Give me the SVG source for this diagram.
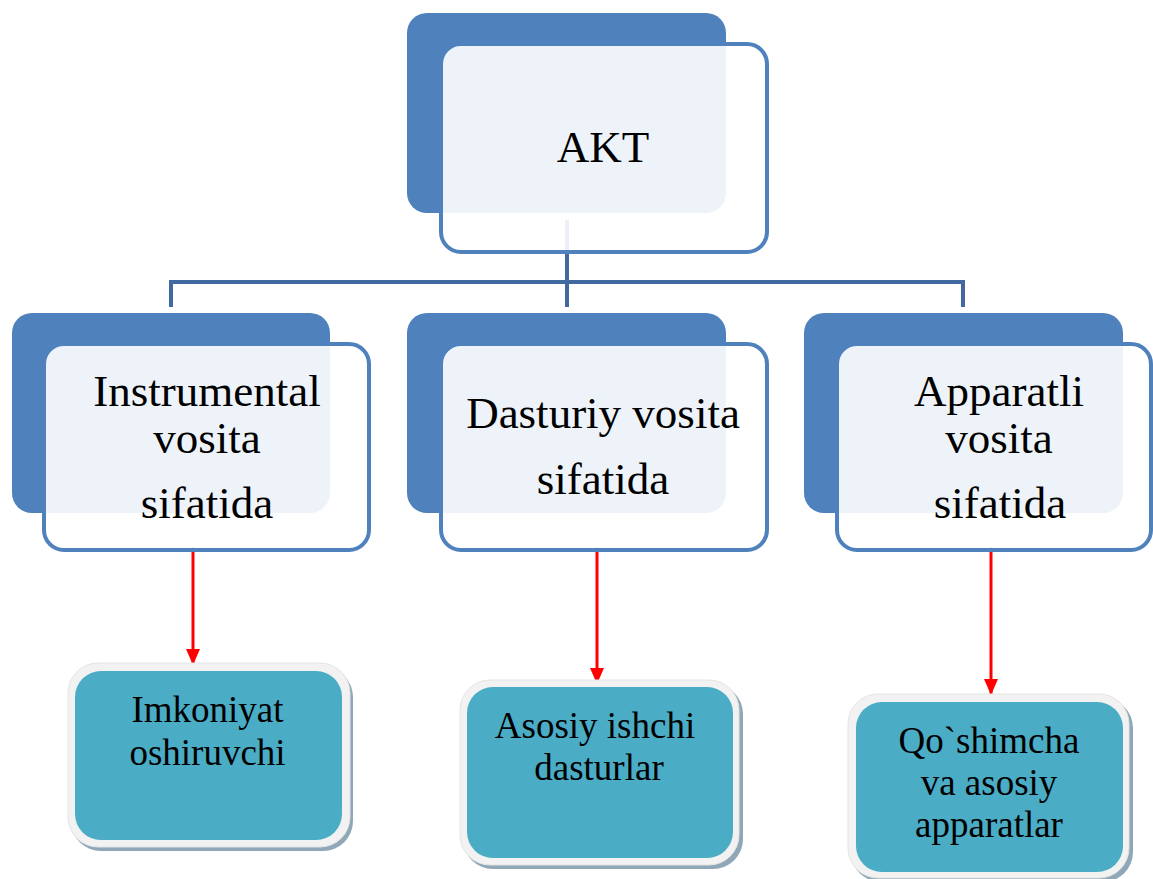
<svg xmlns="http://www.w3.org/2000/svg" width="1153" height="879" viewBox="0 0 1153 879">
  <defs>
    <marker id="redArrow" viewBox="0 0 16 14" refX="16" refY="7" markerWidth="16" markerHeight="14" markerUnits="userSpaceOnUse" orient="auto">
      <path d="M0,0 L16,7 L0,14 Z" fill="#FF0000"/>
    </marker>
  </defs>
  <style>
    .back { fill: #4F81BD; }
    .front { fill: #FFFFFF; fill-opacity: 0.9; stroke: #4F81BD; stroke-width: 4; }
    .tree { fill: none; stroke: #4169A0; stroke-width: 4; }
    .arrow { fill: none; stroke: #FF0000; stroke-width: 3; }
    .shadow { fill: #8FA7B6; }
    .frame { fill: #F2F2F2; stroke: #E4E4E4; stroke-width: 1; }
    .teal { fill: #4BACC6; }
    .lbl { font-family: "Liberation Serif", "Times New Roman", serif; fill: #000000; text-anchor: middle; }
    .big { font-size: 45px; }
    .small { font-size: 37px; }
  </style>

  <!-- tree connectors from the root to the three branches -->
  <g id="connectors">
    <path class="tree" d="M567,220 V307"/>
    <path class="tree" d="M171,307 V282 H963 V307"/>
    <line class="arrow" x1="193" y1="547" x2="193" y2="665" marker-end="url(#redArrow)"/>
    <line class="arrow" x1="597" y1="547" x2="597" y2="684" marker-end="url(#redArrow)"/>
    <line class="arrow" x1="991" y1="547" x2="991" y2="695" marker-end="url(#redArrow)"/>
  </g>

  <!-- root -->
  <g id="node-akt">
    <rect class="back" x="407" y="13" width="319" height="200" rx="20"/>
    <rect class="front" x="441" y="44" width="326" height="208" rx="20"/>
    <text class="lbl big" x="603" y="162">AKT</text>
  </g>

  <!-- branch nodes -->
  <g id="node-instrumental">
    <rect class="back" x="12" y="313" width="318" height="200" rx="20"/>
    <rect class="front" x="44" y="344" width="325" height="206" rx="20"/>
    <text class="lbl big" x="207" y="406">Instrumental</text>
    <text class="lbl big" x="207" y="453">vosita</text>
    <text class="lbl big" x="207" y="518">sifatida</text>
  </g>

  <g id="node-dasturiy">
    <rect class="back" x="407" y="313" width="319" height="200" rx="20"/>
    <rect class="front" x="441" y="344" width="326" height="206" rx="20"/>
    <text class="lbl big" x="603" y="428">Dasturiy vosita</text>
    <text class="lbl big" x="603" y="494">sifatida</text>
  </g>

  <g id="node-apparatli">
    <rect class="back" x="804" y="313" width="319" height="200" rx="20"/>
    <rect class="front" x="837" y="344" width="314" height="206" rx="20"/>
    <text class="lbl big" x="999" y="406">Apparatli</text>
    <text class="lbl big" x="999" y="453">vosita</text>
    <text class="lbl big" x="1000" y="518">sifatida</text>
  </g>

  <!-- leaf nodes -->
  <g id="node-imkoniyat">
    <rect class="shadow" x="71" y="667" width="282" height="184" rx="30"/>
    <rect class="frame" x="68" y="663" width="282" height="184" rx="30"/>
    <rect class="teal" x="75" y="671" width="267" height="169" rx="26"/>
    <text class="lbl small" x="207.5" y="722">Imkoniyat</text>
    <text class="lbl small" x="207.5" y="765">oshiruvchi</text>
  </g>

  <g id="node-asosiy">
    <rect class="shadow" x="463" y="684" width="280" height="185" rx="30"/>
    <rect class="frame" x="460" y="680" width="279" height="185" rx="30"/>
    <rect class="teal" x="467" y="687" width="266" height="171" rx="26"/>
    <text class="lbl small" x="595" y="738">Asosiy ishchi</text>
    <text class="lbl small" x="599" y="780">dasturlar</text>
  </g>

  <g id="node-qoshimcha">
    <rect class="shadow" x="851" y="698" width="282" height="184" rx="30"/>
    <rect class="frame" x="848" y="694" width="281" height="184" rx="30"/>
    <rect class="teal" x="856" y="702" width="267" height="170" rx="26"/>
    <text class="lbl small" x="989" y="753">Qo`shimcha</text>
    <text class="lbl small" x="989" y="795">va asosiy</text>
    <text class="lbl small" x="989" y="837">apparatlar</text>
  </g>
</svg>
